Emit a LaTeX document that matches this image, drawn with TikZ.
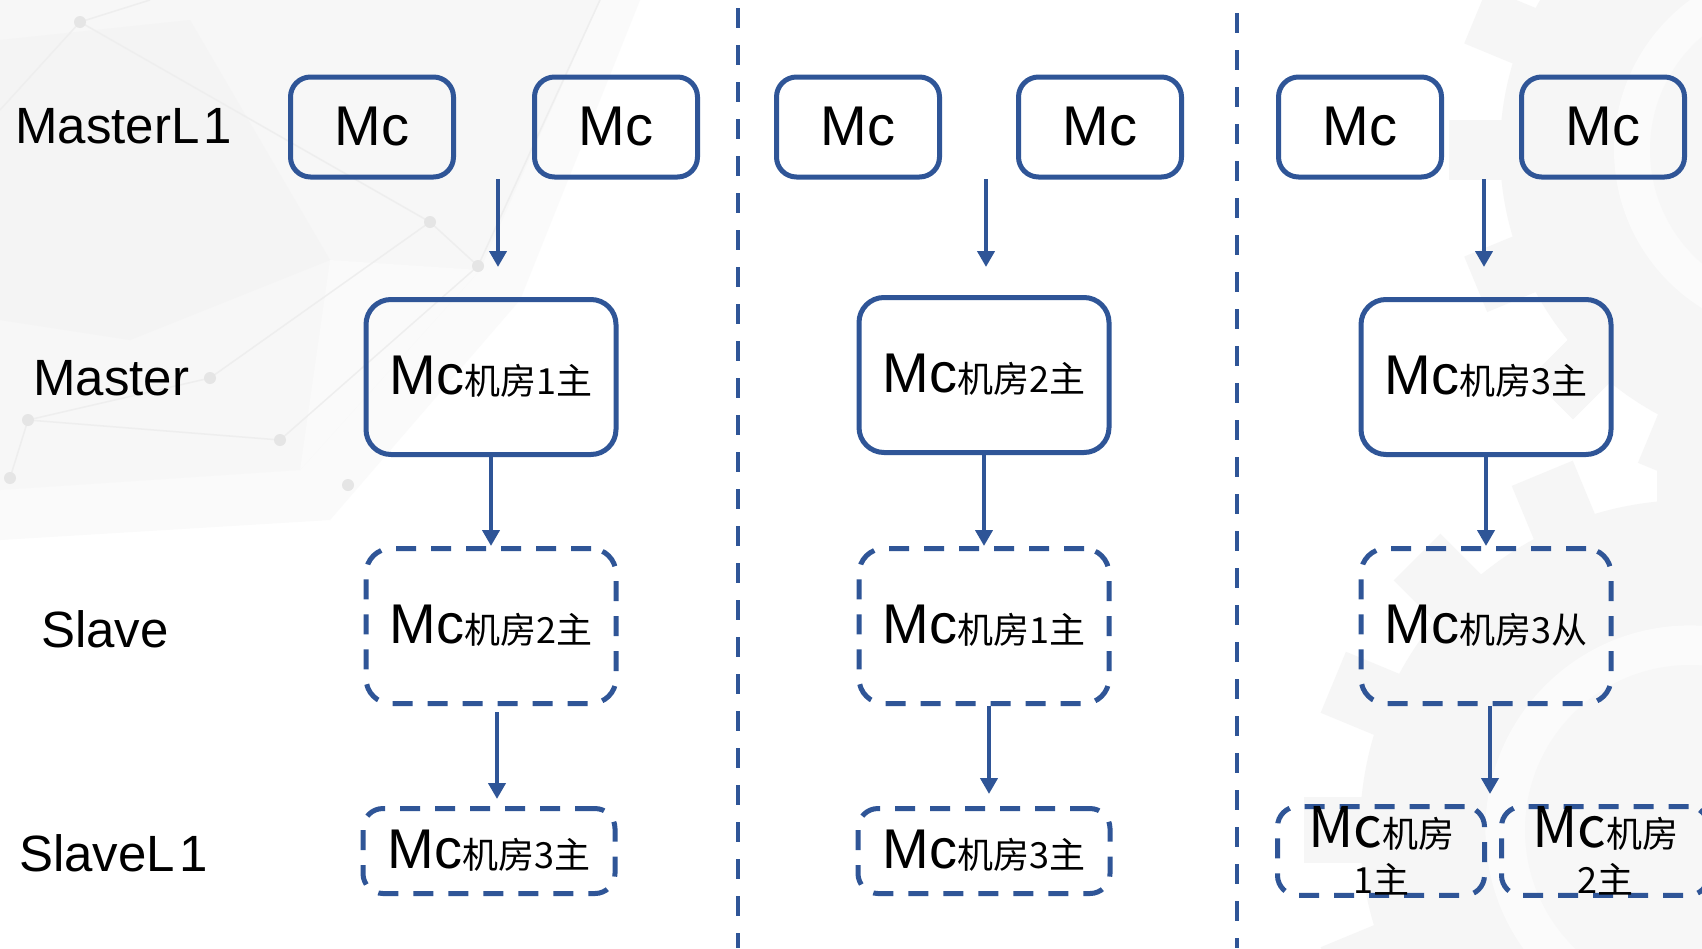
\documentclass[tikz,border=0pt]{standalone}
\usepackage{fontspec}
\setmainfont{Liberation Sans}
\newfontfamily\cjkfont{Noto Sans CJK SC}
\usetikzlibrary{arrows.meta}
\definecolor{mcblue}{RGB}{47,85,151}
\newcommand{\mcbig}{\fontsize{56}{60}\selectfont}
\newcommand{\mcsub}{\cjkfont\fontsize{36}{46}\selectfont}
\newcommand{\mclab}[1]{{\mcbig Mc}{\mcsub #1}}
\newcommand{\drawgear}[3]{%
  \begin{scope}[shift={(#1,#2)}]
    \fill[gray!7] (0,0) circle [radius={#3pt}];
    \foreach \a in {0,22.5,...,337.5}{\fill[gray!7,rotate=\a] (-0.1*#3,0) rectangle (0.1*#3,1.17*#3);}
    \fill[gray!3] (0,0) circle [radius={0.62*#3pt}];
    \fill[gray!6] (0,0) circle [radius={0.5*#3pt}];
  \end{scope}}
\begin{document}
\begin{tikzpicture}[x=1pt,y=-1pt,
  solidbox/.style={draw=mcblue,line width=5pt,inner sep=0pt},
  dashbox/.style={solidbox,dash pattern=on 20pt off 15pt},
  mcsmall/.style={solidbox,minimum width=163pt,minimum height=100pt,rounded corners=20pt},
  masterbox/.style={solidbox,minimum width=250pt,minimum height=155pt,rounded corners=25pt},
  slavebox/.style={dashbox,minimum width=250pt,minimum height=155pt,rounded corners=25pt},
  slavelbox/.style={dashbox,minimum width=252pt,minimum height=85pt,rounded corners=20pt},
  halfbox/.style={dashbox,minimum width=207pt,minimum height=84pt,rounded corners=20pt,align=center,font=\mcsub},
  flow/.style={draw=mcblue,line width=4.5pt,-{Triangle[length=16pt,width=17pt]}},
  rowlab/.style={anchor=base west,inner sep=0pt,font=\fontsize{51}{60}\selectfont},
  divider/.style={draw=mcblue,line width=4.5pt,dash pattern=on 20pt off 17pt},
  facet/.style={fill=gray!6},
  web/.style={draw=gray!13,line width=1.5pt},
  dot/.style={fill=gray!20}]
\useasboundingbox (0,0) rectangle (1702,948);
\clip (0,0) rectangle (1702,948);
\fill[white] (0,0) rectangle (1702,948);
% background decoration
\fill[gray!4] (0,0) -- (640,0) -- (520,300) -- (330,520) -- (0,540) -- cycle;
\fill[facet] (0,0) -- (600,0) -- (480,270) -- (300,470) -- (0,490) -- cycle;
\fill[gray!9] (0,40) -- (190,20) -- (330,260) -- (130,340) -- (0,320) -- cycle;
\fill[gray!4] (330,260) -- (480,270) -- (300,470) -- cycle;
\draw[web] (80,22) -- (430,222) -- (478,266) -- (280,440) -- (28,420) -- (10,478);
\draw[web] (430,222) -- (210,378) -- (28,420);
\draw[web] (150,0) -- (80,22) -- (0,110);
\draw[web] (478,266) -- (600,0);
\foreach \p in {(80,22),(430,222),(478,266),(280,440),(210,378),(28,420),(10,478),(348,485)}
  \fill[dot] \p circle [radius=6pt];
\drawgear{1690}{830}{330}
\drawgear{1800}{150}{300}
% dividers
\coordinate (d1t) at (738,8);
\coordinate (d1b) at (738,948);
\coordinate (d2t) at (1237,13);
\coordinate (d2b) at (1237,948);
\draw[divider] (d1t) -- (d1b);
\draw[divider] (d2t) -- (d2b);
% row labels
\node[rowlab] (lml1) at (15,143) {MasterL\kern4pt 1};
\node[rowlab] (lm) at (33,395) {Master};
\node[rowlab] (ls) at (41,647) {Slave};
\node[rowlab] (lsl1) at (19,871) {SlaveL\kern4pt 1};
% MasterL1 row
\node[mcsmall] (c1a) at (372,127) {\mcbig Mc};
\node[mcsmall] (c1b) at (616,127) {\mcbig Mc};
\node[mcsmall] (c2a) at (858,127) {\mcbig Mc};
\node[mcsmall] (c2b) at (1100,127) {\mcbig Mc};
\node[mcsmall] (c3a) at (1360,127) {\mcbig Mc};
\node[mcsmall] (c3b) at (1603,127) {\mcbig Mc};
% Master row
\node[masterbox] (m1) at (491,377) {\mclab{机房1主}};
\node[masterbox] (m2) at (984,375) {\mclab{机房2主}};
\node[masterbox] (m3) at (1486,377) {\mclab{机房3主}};
% Slave row
\node[slavebox] (s1) at (491,626) {\mclab{机房2主}};
\node[slavebox] (s2) at (984,626) {\mclab{机房1主}};
\node[slavebox] (s3) at (1486,626) {\mclab{机房3从}};
% SlaveL1 row
\node[slavelbox] (t1) at (489,851) {\mclab{机房3主}};
\node[slavelbox] (t2) at (984,851) {\mclab{机房3主}};
\node[halfbox] (t3a) at (1381,851) {{\mcbig Mc}机房\\1主};
\node[halfbox] (t3b) at (1605,851) {{\mcbig Mc}机房\\2主};
% arrows MasterL1 -> Master
\coordinate (a1s) at (498,179);
\coordinate (a2s) at (986,179);
\coordinate (a3s) at (1484,179);
\draw[flow,shorten >=30pt] (a1s) -- (a1s |- m1.north);
\draw[flow,shorten >=28pt] (a2s) -- (a2s |- m2.north);
\draw[flow,shorten >=30pt] (a3s) -- (a3s |- m3.north);
% Master -> Slave
\draw[flow] (m1.south) -- (s1.north);
\draw[flow] (m2.south) -- (s2.north);
\draw[flow] (m3.south) -- (s3.north);
% Slave -> SlaveL1
\coordinate (j1) at (497,806);
\coordinate (j2) at (989,806);
\coordinate (j3) at (1490,806);
\draw[flow,shorten <=6pt,shorten >=7pt] (s1.south -| j1) -- (j1);
\draw[flow,shorten >=12pt] (s2.south -| j2) -- (j2);
\draw[flow,shorten >=12pt] (s3.south -| j3) -- (j3);
\end{tikzpicture}
\end{document}
